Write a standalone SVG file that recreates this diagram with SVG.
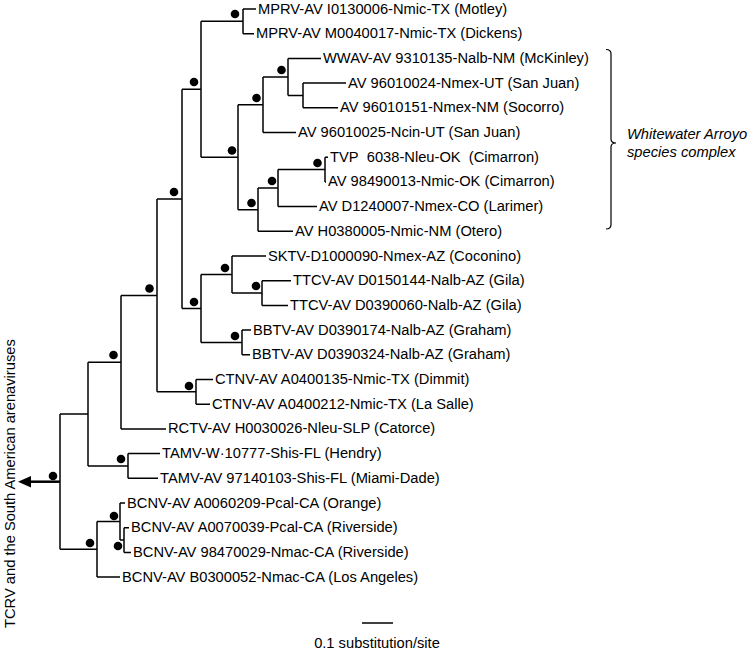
<svg xmlns="http://www.w3.org/2000/svg" width="750" height="652" viewBox="0 0 750 652">
<style>
.t{font-family:"Liberation Sans",Arial,sans-serif;font-size:14.7px;fill:#000}
.i{font-style:italic}
.c{fill:none;stroke:#000;stroke-width:1.5}
.d{fill:#000}
</style>
<rect width="750" height="652" fill="#fff"/>
<g id="connectors" class="c">
<!-- MPRV node -->
<path d="M243,9 V33.7 M243,9 H256 M243,33.7 H254 M201,21.35 H243"/>
<!-- B -->
<path d="M303,83.1 V107.8 M303,83.1 H346 M303,107.8 H338 M288,95.45 H303"/>
<!-- A -->
<path d="M288,58.4 V95.45 M288,58.4 H321 M263,76.9 H288"/>
<!-- C -->
<path d="M263,76.9 V132.5 M263,132.5 H296 M238,104.7 H263"/>
<!-- G -->
<path d="M325,157.2 V181.9 M325,157.2 H328 M325,181.9 H326 M278,169.55 H325"/>
<!-- F -->
<path d="M278,169.55 V206.6 M278,206.6 H317 M258,188.1 H278"/>
<!-- E -->
<path d="M258,188.1 V231.3 M258,231.3 H293 M238,209.7 H258"/>
<!-- D -->
<path d="M238,104.7 V209.7 M201,157.2 H238"/>
<!-- N9 -->
<path d="M201,21.35 V157.2 M182,89.3 H201"/>
<!-- N7 -->
<path d="M262,280.7 V305.4 M262,280.7 H291 M262,305.4 H288 M232,293.05 H262"/>
<!-- N6 -->
<path d="M232,256 V293.05 M232,256 H266 M201,274.5 H232"/>
<!-- N8 -->
<path d="M242,330.1 V354.8 M242,330.1 H251 M242,354.8 H250 M201,342.45 H242"/>
<!-- N5 -->
<path d="M201,274.5 V342.45 M182,308.5 H201"/>
<!-- N4 -->
<path d="M182,89.3 V308.5 M157,198.9 H182"/>
<!-- CTNV -->
<path d="M196,379.5 V404.2 M196,379.5 H213 M196,404.2 H210 M157,391.85 H196"/>
<!-- N3 -->
<path d="M157,198.9 V391.85 M121,295.4 H157"/>
<!-- N2 -->
<path d="M121,295.4 V428.9 M121,428.9 H166 M88,362.15 H121"/>
<!-- TAMV -->
<path d="M128,453.6 V478.3 M128,453.6 H160 M128,478.3 H158 M88,465.95 H128"/>
<!-- N1 -->
<path d="M88,362.15 V465.95 M60,414.05 H88"/>
<!-- R -->
<path d="M124,527.7 V552.4 M124,527.7 H129 M124,552.4 H131 M120,540.05 H124"/>
<!-- Q -->
<path d="M120,503 V540.05 M120,503 H125 M97,521.5 H120"/>
<!-- P -->
<path d="M97,521.5 V577.1 M97,577.1 H120 M60,549.3 H97"/>
<!-- root -->
<path d="M60,414.05 V549.3"/>
<path d="M60,481.7 H30" stroke-width="2.5"/>
<polygon points="18,481.7 31,476 31,487.4" fill="#000" stroke="none"/>
<!-- scale bar -->
<path d="M362,623 H393"/>
<!-- bracket -->
<path d="M606,49.5 Q611,49.5 611,54 V139 Q611,143 616,143 Q611,143 611,147 V224.5 Q611,229 606,229" stroke-width="1.2"/>
</g>
<g id="internal-nodes" class="d">
<circle id="n-mprv" cx="235" cy="14" r="4.3"/>
<circle id="n9" cx="194" cy="82" r="4.3"/>
<circle id="nA" cx="281.5" cy="70" r="4.3"/>
<circle id="nC" cx="256.5" cy="98" r="4.3"/>
<circle id="nD" cx="232" cy="150.5" r="4.3"/>
<circle id="nG" cx="317.5" cy="163" r="4.3"/>
<circle id="nF" cx="272" cy="181" r="4.3"/>
<circle id="nE" cx="251.5" cy="203" r="4.3"/>
<circle id="n4" cx="174" cy="192" r="4.3"/>
<circle id="n6" cx="225" cy="268" r="4.3"/>
<circle id="n7" cx="256" cy="286" r="4.3"/>
<circle id="n5" cx="194" cy="302" r="4.3"/>
<circle id="n8" cx="235" cy="336" r="4.3"/>
<circle id="n-ctnv" cx="189" cy="386" r="4.3"/>
<circle id="n3" cx="149.5" cy="288.5" r="4.3"/>
<circle id="n2" cx="113.5" cy="355" r="4.3"/>
<circle id="n-tamv" cx="121" cy="459" r="4.3"/>
<circle id="n-root" cx="53" cy="476" r="4.3"/>
<circle id="nP" cx="90" cy="543" r="4.3"/>
<circle id="nQ" cx="114" cy="516" r="4.3"/>
<circle id="nR" cx="118" cy="546" r="4.3"/>
</g>
<g id="leaves" class="t">
<g id="leaf1"><text x="258" y="13.5">MPRV-AV I0130006-Nmic-TX (Motley)</text></g>
<g id="leaf2"><text x="256" y="38.2">MPRV-AV M0040017-Nmic-TX (Dickens)</text></g>
<g id="leaf3"><text x="323" y="62.9">WWAV-AV 9310135-Nalb-NM (McKinley)</text></g>
<g id="leaf4"><text x="348" y="87.6">AV 96010024-Nmex-UT (San Juan)</text></g>
<g id="leaf5"><text x="340" y="112.3">AV 96010151-Nmex-NM (Socorro)</text></g>
<g id="leaf6"><text x="298" y="137">AV 96010025-Ncin-UT (San Juan)</text></g>
<g id="leaf7"><text x="330" y="161.7">TVP&#160; 6038-Nleu-OK&#160; (Cimarron)</text></g>
<g id="leaf8"><text x="328" y="186.4">AV 98490013-Nmic-OK (Cimarron)</text></g>
<g id="leaf9"><text x="319" y="211.1">AV D1240007-Nmex-CO (Larimer)</text></g>
<g id="leaf10"><text x="295" y="235.8">AV H0380005-Nmic-NM (Otero)</text></g>
<g id="leaf11"><text x="268" y="260.5">SKTV-D1000090-Nmex-AZ (Coconino)</text></g>
<g id="leaf12"><text x="293" y="285.2">TTCV-AV D0150144-Nalb-AZ (Gila)</text></g>
<g id="leaf13"><text x="290" y="309.9">TTCV-AV D0390060-Nalb-AZ (Gila)</text></g>
<g id="leaf14"><text x="253" y="334.6">BBTV-AV D0390174-Nalb-AZ (Graham)</text></g>
<g id="leaf15"><text x="252" y="359.3">BBTV-AV D0390324-Nalb-AZ (Graham)</text></g>
<g id="leaf16"><text x="215" y="384">CTNV-AV A0400135-Nmic-TX (Dimmit)</text></g>
<g id="leaf17"><text x="212" y="408.7">CTNV-AV A0400212-Nmic-TX (La Salle)</text></g>
<g id="leaf18"><text x="168" y="433.4">RCTV-AV H0030026-Nleu-SLP (Catorce)</text></g>
<g id="leaf19"><text x="162" y="458.1">TAMV-W·10777-Shis-FL (Hendry)</text></g>
<g id="leaf20"><text x="160" y="482.8">TAMV-AV 97140103-Shis-FL (Miami-Dade)</text></g>
<g id="leaf21"><text x="127" y="507.5">BCNV-AV A0060209-Pcal-CA (Orange)</text></g>
<g id="leaf22"><text x="131" y="532.2">BCNV-AV A0070039-Pcal-CA (Riverside)</text></g>
<g id="leaf23"><text x="133" y="556.9">BCNV-AV 98470029-Nmac-CA (Riverside)</text></g>
<g id="leaf24"><text x="122" y="581.6">BCNV-AV B0300052-Nmac-CA (Los Angeles)</text></g>
</g>
<g id="outgroup" class="t"><text transform="rotate(-90)" x="-628" y="15">TCRV and the South American arenaviruses</text></g>
<g id="scale" class="t"><text x="377" y="648" text-anchor="middle">0.1 substitution/site</text></g>
<g id="complex-label" class="t i"><text x="627" y="139">Whitewater Arroyo</text><text x="627" y="157">species complex</text></g>
</svg>
